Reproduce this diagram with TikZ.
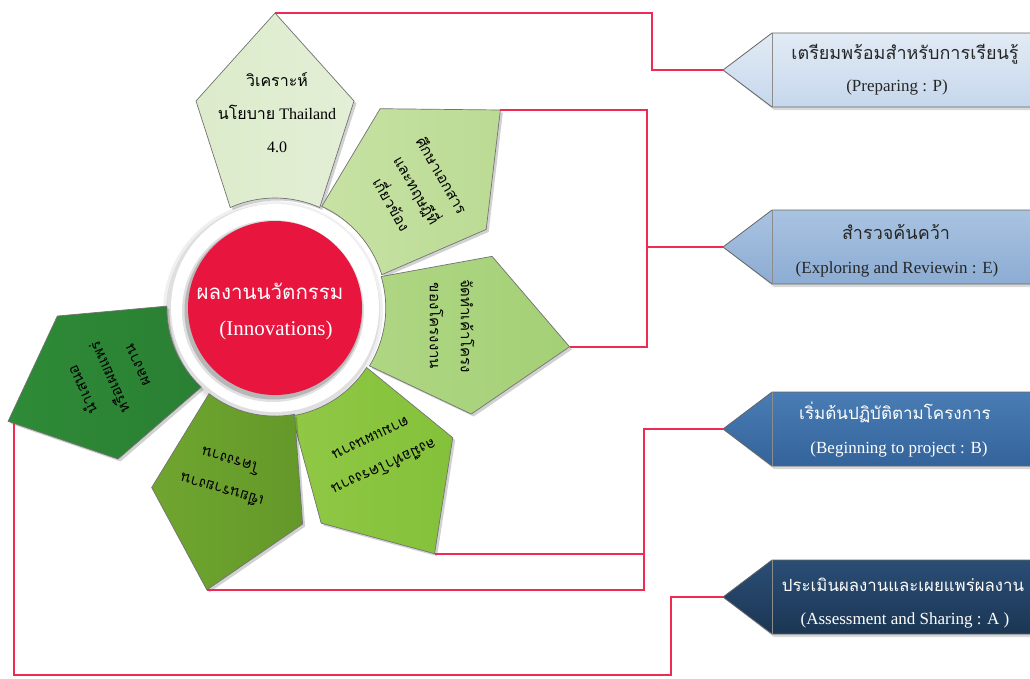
\documentclass[tikz,border=0pt]{standalone}
\usepackage{fontspec}
\setmainfont{Liberation Serif}
\newfontfamily\thaif[Script=Thai]{Loma}
\usetikzlibrary{calc}
\definecolor{redc}{HTML}{E8163F}
\definecolor{linec}{HTML}{EF2B52}
\definecolor{pAa}{HTML}{DCEBCB}\definecolor{pAb}{HTML}{E3EFD6}
\definecolor{pBa}{HTML}{C7E2A4}\definecolor{pBb}{HTML}{BBDB94}
\definecolor{pCa}{HTML}{AFD683}\definecolor{pCb}{HTML}{A4D076}
\definecolor{pDa}{HTML}{90C845}\definecolor{pDb}{HTML}{84C13A}
\definecolor{pEa}{HTML}{6FA52F}\definecolor{pEb}{HTML}{64992A}
\definecolor{pFa}{HTML}{2E8B37}\definecolor{pFb}{HTML}{2A7F33}
\definecolor{bAa}{HTML}{E2EBF5}\definecolor{bAb}{HTML}{C6D7EC}
\definecolor{bBa}{HTML}{A9C3E1}\definecolor{bBb}{HTML}{8CACD3}
\definecolor{bCa}{HTML}{4A7DB5}\definecolor{bCb}{HTML}{33639A}
\definecolor{bDa}{HTML}{2B4E75}\definecolor{bDb}{HTML}{1B3654}
\tikzset{
  conn/.style={draw=linec, line width=2.3pt, line join=miter},
  ptext/.style={align=center, text=black, inner sep=0pt},
  boxshape/.style={draw=black!60, line width=0.8pt},
  btext/.style={inner sep=0pt, text height=0.75em, text depth=0.25em},
}
\newcommand{\petalshape}{(295,0) -- (207,79) -- plot[domain=24:-24,samples=17] (\x:110) -- (207,-79) -- cycle}
\newcommand{\drawpetal}[5]{%
  \begin{scope}[shift={(277.5,310.5)}, rotate=#1, scale=#2]
    \fill[black, opacity=0.18] \petalshape;
  \end{scope}
  \begin{scope}[shift={(275,308)}, rotate=#1, scale=#2]
    \shade[left color=#3, right color=#4, draw=black!55, line width=0.7pt] \petalshape;
    \coordinate (#5) at (295,0);
  \end{scope}}
\newcommand{\arrowbox}[4]{% y, color top, color bottom, name
  \fill[black, opacity=0.15] (725,#1+2) -- (774,#1-35) -- (1045,#1-35) -- (1045,#1+40) -- (774,#1+40) -- cycle;
  \shade[top color=#2, bottom color=#3, boxshape] (723,#1) -- (772,#1-37) -- (1045,#1-37) -- (1045,#1+37) -- (772,#1+37) -- cycle;
  \draw[black!45, line width=0.5pt] (772,#1-37) -- (772,#1+37);
  \coordinate (#4) at (723,#1);}
\begin{document}
\begin{tikzpicture}[x=1pt,y=-1pt]
\useasboundingbox (0,0) rectangle (1030,678);
\clip (0,0) rectangle (1030,678);
\fill[white] (0,0) rectangle (1030,678);
% centre disc with ring
\fill[black, opacity=0.06] (273,311) circle[radius=110];
\fill[black, opacity=0.07] (273,311) circle[radius=107];
\fill[white] (275,308) circle[radius=104];
\fill[black, opacity=0.12] (273,311) circle[radius=91];
\fill[black, opacity=0.18] (273.5,310.5) circle[radius=89];
\fill[redc] (275,308) circle[radius=87];
% petals
\drawpetal{90}{1.0}{pAa}{pAb}{a1}
\drawpetal{41.3}{1.017}{pBa}{pBb}{a2}
\drawpetal{-7.5}{1.007}{pCa}{pCb}{a3}
\drawpetal{-57}{0.993}{pDa}{pDb}{a4}
\drawpetal{-103.6}{0.983}{pEa}{pEb}{a5}
\drawpetal{-157}{0.983}{pFa}{pFb}{a6}
% boxes
\arrowbox{70}{bAa}{bAb}{t1}
\arrowbox{247}{bBa}{bBb}{t2}
\arrowbox{429}{bCa}{bCb}{t3}
\arrowbox{597}{bDa}{bDb}{t4}
% connector helper coordinates
\coordinate (k1) at (652,0);
\coordinate (k2) at (647,0);
\coordinate (k3) at (644,0);
\coordinate (s6) at (14,423);
\coordinate (k4) at (671,675);
% connectors
\draw[conn] (a1) -- (a1 -| k1) |- (t1);
\draw[conn] (a2) -- (a2 -| k2) -- (a3 -| k2) -- (a3);
\draw[conn] (k2 |- t2) -- (t2);
\draw[conn] (a4) -- (a4 -| k3);
\draw[conn] (a5) -- (a5 -| k3) -- (k3 |- t3) -- (t3);
\draw[conn] (s6) -- (s6 |- k4) -- (k4) -- (k4 |- t4) -- (t4);
% centre text
\node[btext, text=white, font=\fontsize{20.5}{24}\selectfont\thaif] (c1) at (270,297) {ผลงานนวัตกรรม};
\node[btext, text=white, font=\fontsize{21}{24}\selectfont] (c2) at (276,333) {(Innovations)};
% petal texts
\node[ptext, font=\fontsize{16}{33}\selectfont] (p1) at (277,113) {{\thaif วิเคราะห์}\\{\thaif นโยบาย} Thailand\\4.0};
\node[ptext, rotate=-60, font=\fontsize{15}{29}\selectfont\thaif] (p2) at (417,190) {ศึกษาเอกสาร\\และทฤษฎีที่\\เกี่ยวข้อง};
\node[ptext, rotate=-90, font=\fontsize{15}{31}\selectfont\thaif] (p3) at (452,326) {จัดทำเค้าโครง\\ของโครงงาน};
\node[ptext, rotate=-155, font=\fontsize{15}{31}\selectfont\thaif] (p4) at (378,454) {ลงมือทำโครงงาน\\ตามแผนงาน};
\node[ptext, rotate=164, font=\fontsize{15}{31}\selectfont\thaif] (p5) at (226,476) {เขียนรายงาน\\โครงงาน};
\node[ptext, rotate=114, font=\fontsize{15}{30}\selectfont\thaif] (p6) at (109,378) {นำเสนอ\\หรือเผยแพร่\\ผลงาน};
% box texts
\node[btext, text=black!85, font=\fontsize{18}{20}\selectfont\thaif] (b1t) at (905,57) {เตรียมพร้อมสำหรับการเรียนรู้};
\node[btext, text=black!85, font=\fontsize{17}{20}\selectfont] (b1e) at (897,89) {(Preparing : P)};
\node[btext, text=black!85, font=\fontsize{18}{20}\selectfont\thaif] (b2t) at (896,237) {สำรวจค้นคว้า};
\node[btext, text=black!85, font=\fontsize{17}{20}\selectfont] (b2e) at (897,271) {(Exploring and Reviewin : E)};
\node[btext, text=white, font=\fontsize{17}{20}\selectfont\thaif] (b3t) at (895,417) {เริ่มต้นปฏิบัติตามโครงการ};
\node[btext, text=white, font=\fontsize{17}{20}\selectfont] (b3e) at (899,451) {(Beginning to project : B)};
\node[btext, text=white, font=\fontsize{16.8}{20}\selectfont\thaif] (b4t) at (903,589) {ประเมินผลงานและเผยแพร่ผลงาน};
\node[btext, text=white, font=\fontsize{17}{20}\selectfont] (b4e) at (905,622) {(Assessment and Sharing : A )};
\end{tikzpicture}
\end{document}
